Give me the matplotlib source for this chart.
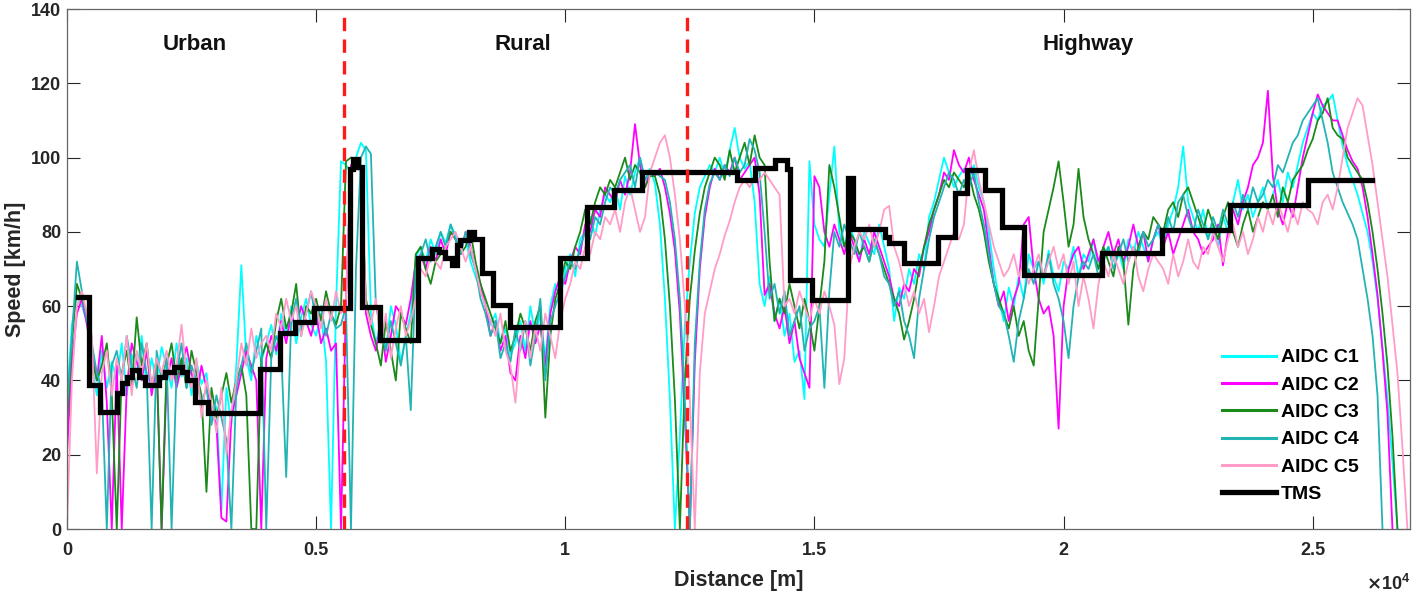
import numpy as np
import matplotlib
matplotlib.use('Agg')
from matplotlib import pyplot as plt

# speed samples every 100 m (km/h)
dist_step = 100

c1_speed = [35, 55, 63, 60, 56, 44, 36, 48, 38, 45,
            40, 50, 36, 47, 42, 52, 38, 46, 40, 49,
            44, 38, 50, 41, 46, 36, 45, 39, 42, 30,
            33, 5, 38, 28, 44, 71, 46, 40, 52, 45,
            50, 55, 47, 58, 52, 60, 50, 57, 62, 55,
            52, 58, 45, 0, 60, 99, 98, 96, 100, 104,
            102, 58, 50, 56, 48, 60, 55, 45, 52, 58,
            73, 76, 72, 78, 74, 80, 77, 82, 79, 76,
            78, 72, 68, 64, 60, 55, 58, 50, 54, 47,
            50, 56, 48, 60, 52, 58, 46, 60, 66, 62,
            70, 74, 68, 78, 80, 84, 79, 86, 90, 88,
            92, 86, 95, 90, 96, 100, 94, 97, 93, 82,
            62, 35, 0, 25, 55, 72, 85, 92, 95, 98,
            96, 100, 95, 102, 108, 100, 97, 99, 88, 66,
            60, 68, 56, 62, 52, 58, 45, 48, 35, 99,
            82, 78, 76, 90, 103, 80, 76, 82, 78, 72,
            80, 77, 74, 82, 76, 70, 56, 65, 62, 70,
            66, 74, 70, 84, 88, 94, 100, 96, 92, 95,
            97, 94, 98, 92, 88, 80, 70, 62, 56, 65,
            60, 68, 62, 74, 70, 72, 66, 75, 68, 64,
            72, 70, 76, 68, 74, 72, 78, 70, 74, 76,
            72, 75, 70, 78, 74, 80, 76, 72, 78, 80,
            76, 82, 86, 92, 103, 88, 84, 80, 86, 78,
            82, 76, 84, 80, 88, 94, 86, 90, 84, 88,
            92, 86, 90, 94, 88, 96, 92, 98, 104, 108,
            112, 110, 114, 115, 117, 110, 103, 98, 94, 90,
            85, 80, 72, 62, 49, 35, 18, 0]

c2_speed = [20, 45, 58, 62, 55, 48, 40, 52, 34, 0,
            44, 0, 38, 50, 45, 40, 48, 36, 44, 0,
            40, 46, 38, 44, 49, 42, 36, 44, 38, 32,
            28, 3, 2, 30, 36, 42, 48, 44, 40, 0,
            46, 52, 48, 56, 50, 58, 54, 60, 56, 52,
            58, 50, 54, 48, 50, 0, 62, 98, 99, 96,
            58, 52, 48, 56, 45, 52, 60, 58, 55, 62,
            72, 74, 70, 76, 72, 78, 74, 80, 78, 74,
            80, 76, 70, 66, 60, 52, 56, 48, 52, 42,
            40, 52, 46, 56, 50, 55, 44, 58, 64, 68,
            66, 72, 76, 74, 82, 80, 86, 84, 92, 90,
            88, 94, 90, 96, 109, 98, 92, 96, 95, 97,
            92, 85, 75, 58, 30, 0, 45, 70, 84, 92,
            97, 94, 98, 96, 100, 94, 96, 98, 100, 90,
            63, 66, 58, 54, 60, 50, 56, 46, 42, 38,
            95, 92, 80, 76, 82, 78, 74, 80, 76, 72,
            78, 74, 80, 76, 72, 68, 62, 60, 66, 64,
            70, 68, 76, 80, 86, 90, 96, 94, 102, 98,
            96, 100, 94, 90, 86, 76, 66, 60, 64, 56,
            62, 66, 82, 84, 70, 62, 58, 60, 52, 27,
            60, 70, 74, 76, 70, 74, 78, 72, 76, 80,
            74, 78, 72, 76, 82, 76, 80, 72, 78, 82,
            76, 80, 74, 78, 82, 86, 80, 78, 74, 76,
            78, 82, 71, 80, 86, 82, 88, 92, 98, 100,
            104, 118, 95, 86, 82, 88, 84, 92, 100, 106,
            112, 117, 114, 112, 110, 110, 106, 102, 99, 97,
            92, 84, 74, 63, 48, 31, 0]

c3_speed = [28, 50, 66, 62, 58, 46, 40, 44, 50, 36,
            0, 42, 48, 38, 57, 44, 50, 38, 46, 0,
            44, 50, 40, 46, 38, 48, 42, 36, 10, 38,
            30, 36, 42, 34, 40, 44, 36, 0, 0, 46,
            50, 46, 56, 62, 54, 58, 66, 52, 60, 58,
            62, 56, 64, 58, 55, 60, 99, 100, 98, 96,
            62, 55, 50, 44, 56, 48, 40, 58, 54, 50,
            74, 76, 70, 66, 72, 74, 76, 80, 78, 74,
            76, 80, 72, 66, 62, 58, 54, 50, 56, 48,
            52, 58, 54, 48, 56, 60, 30, 52, 62, 66,
            72, 70, 76, 80, 86, 82, 88, 92, 90, 94,
            92, 96, 100, 94, 98, 96, 92, 95, 95, 90,
            78, 60, 35, 0, 40, 62, 75, 85, 92, 96,
            100, 98, 94, 102, 96, 100, 104, 98, 106, 100,
            98, 72, 56, 62, 58, 66, 60, 54, 62, 56,
            48, 60, 72, 98, 92, 84, 76, 80, 78, 74,
            76, 72, 78, 74, 70, 66, 62, 58, 51, 56,
            62, 70, 76, 82, 86, 90, 94, 92, 96, 94,
            92, 96, 90, 86, 80, 72, 66, 62, 58, 54,
            60, 52, 56, 48, 44, 62, 80, 86, 92, 99,
            88, 76, 82, 97, 84, 78, 74, 70, 76, 72,
            68, 76, 72, 55, 70, 76, 80, 78, 84, 82,
            80, 86, 88, 84, 90, 92, 88, 84, 80, 86,
            82, 78, 84, 88, 80, 76, 82, 86, 80, 84,
            88, 86, 90, 84, 92, 88, 94, 96, 98, 102,
            105, 110, 112, 116, 108, 106, 105, 100, 98, 96,
            94, 88, 80, 70, 58, 44, 25, 0]

c4_speed = [32, 52, 72, 64, 56, 50, 42, 38, 0, 44,
            48, 40, 52, 44, 38, 50, 42, 0, 48, 40,
            46, 0, 42, 50, 38, 44, 40, 34, 38, 28,
            36, 30, 24, 0, 38, 44, 50, 42, 48, 54,
            0, 46, 52, 48, 14, 56, 62, 54, 58, 64,
            56, 60, 52, 58, 54, 55, 60, 0, 70, 100,
            103, 101, 60, 54, 48, 56, 50, 44, 52, 32,
            70, 74, 78, 72, 76, 80, 76, 82, 78, 74,
            80, 74, 70, 62, 58, 52, 56, 46, 50, 45,
            54, 48, 56, 44, 52, 62, 40, 56, 60, 64,
            68, 72, 70, 76, 80, 78, 84, 82, 88, 92,
            90, 94, 96, 98, 92, 100, 94, 96, 96, 95,
            94, 88, 78, 62, 35, 0, 50, 72, 86, 93,
            96, 94, 98, 95, 100, 96, 98, 105, 102, 96,
            80, 62, 66, 58, 64, 52, 56, 60, 48, 54,
            56, 60, 38, 64, 80, 76, 82, 78, 74, 80,
            76, 72, 78, 74, 68, 66, 60, 64, 56, 52,
            46, 62, 70, 78, 84, 88, 92, 96, 94, 90,
            94, 92, 96, 88, 82, 74, 66, 60, 58, 52,
            45, 56, 62, 70, 66, 72, 68, 74, 66, 62,
            56, 46, 60, 68, 72, 70, 74, 68, 72, 76,
            70, 74, 78, 72, 76, 74, 80, 76, 78, 82,
            78, 84, 80, 88, 90, 84, 80, 86, 82, 78,
            84, 80, 86, 82, 88, 84, 90, 86, 92, 88,
            90, 94, 92, 98, 96, 100, 104, 106, 110, 112,
            114, 116, 110, 104, 96, 92, 88, 85, 82, 78,
            70, 62, 52, 36, 0]

c5_speed = [0, 40, 60, 64, 58, 52, 15, 42, 48, 36,
            46, 40, 52, 36, 48, 42, 50, 38, 46, 42,
            48, 40, 44, 55, 42, 38, 46, 30, 40, 34,
            26, 38, 20, 32, 40, 50, 44, 54, 46, 50,
            52, 48, 58, 54, 62, 56, 60, 52, 58, 64,
            60, 54, 62, 56, 64, 58, 62, 97, 99, 96,
            60, 55, 62, 50, 58, 46, 54, 60, 52, 56,
            62, 70, 68, 74, 72, 70, 76, 78, 80, 76,
            72, 76, 70, 64, 60, 56, 52, 58, 48, 44,
            34, 50, 56, 46, 54, 48, 58, 52, 46, 56,
            62, 66, 72, 70, 76, 74, 80, 78, 84, 82,
            86, 80, 88, 92, 86, 80, 84, 96, 100, 104,
            106, 100, 90, 78, 60, 35, 0, 42, 58, 64,
            70, 74, 79, 83, 88, 92, 94, 92, 95, 94,
            96, 94, 92, 90, 60, 62, 58, 64, 60, 56,
            62, 58, 64, 60, 55, 39, 46, 70, 76, 80,
            78, 82, 76, 80, 86, 87, 76, 72, 66, 60,
            64, 58, 62, 53, 60, 68, 72, 76, 80, 78,
            82, 96, 102, 94, 88, 82, 76, 72, 68, 70,
            74, 68, 72, 66, 70, 74, 68, 72, 76, 70,
            74, 66, 72, 60, 68, 62, 54, 66, 72, 68,
            74, 70, 66, 72, 76, 68, 64, 70, 74, 72,
            70, 66, 74, 68, 72, 78, 72, 70, 76, 74,
            80, 76, 72, 78, 82, 76, 80, 74, 78, 84,
            80, 86, 82, 88, 84, 80, 86, 82, 88, 86,
            85, 82, 88, 90, 86, 92, 100, 108, 112, 116,
            114, 106, 98, 88, 78, 68, 55, 42, 22, 0]

# TMS target speed: step starts (m) and level (km/h)
tms_dist = [220, 435, 670, 1000, 1100, 1200, 1300, 1440, 1570, 1840,
            1970, 2140, 2310, 2410, 2575, 2840, 3880, 4280, 4580, 4950,
            5680, 5750, 5840, 5920, 6290, 7055, 7320, 7460, 7590, 7720,
            7825, 7890, 8060, 8160, 8330, 8560, 8900, 9900, 10430, 10970,
            11540, 13440, 13810, 14210, 14450, 14510, 14950, 15680, 15780, 16420,
            16490, 16790, 17490, 17820, 18060, 18430, 18760, 19200, 20770, 21970,
            23340, 24910, 26180]
tms_speed = [62.5, 38.8, 31.6, 36.5, 39.2, 41, 42.8, 41, 38.8, 41,
             42.3, 43.7, 42.3, 40.1, 34.3, 31.2, 43.2, 52.8, 55.8, 59.4,
             97, 99.5, 97.5, 59.9, 50.9, 72.9, 75.5, 74.6, 72.9, 71.1,
             76.4, 77.8, 80, 78.2, 68.8, 60.3, 54.5, 72.9, 86.6, 91.4,
             96.2, 94, 97.1, 99.4, 97, 67, 61.6, 94.4, 80.9, 78.7,
             76.9, 71.5, 78.7, 90.4, 96.6, 91.3, 81.4, 68.4, 74.2, 80.5,
             87.2, 94.1, 94.1]

zone_bounds = [5570, 12450]
zone_names = ['Urban', 'Rural', 'Highway']
zone_label_x = [2570, 9150, 20490]

series_names = ['AIDC C1', 'AIDC C2', 'AIDC C3', 'AIDC C4', 'AIDC C5']
series_colors = ['#00ffff', '#ff00ff', '#1a8a1a', '#22b4b4', '#ff9cc8']

plt.rcParams['font.family'] = ['Liberation Sans', 'DejaVu Sans']
plt.rcParams['font.weight'] = 'bold'

fig = plt.figure(figsize=(14.15, 5.94), dpi=100)
ax = fig.add_axes([0.0473, 0.1094, 0.9491, 0.8754])

all_speeds = [c1_speed, c2_speed, c3_speed, c4_speed, c5_speed]
for spd, name, col in zip(all_speeds, series_names, series_colors):
    d = np.arange(len(spd)) * dist_step
    ax.plot(d, spd, color=col, lw=1.3, label=name)

ax.step(tms_dist, tms_speed, where='post', color='black', lw=3.8,
        label='TMS', solid_joinstyle='miter')

for xb in zone_bounds:
    ax.axvline(xb, color='#ff1a1a', lw=2.4, ls=(0, (4, 2.5)), zorder=5)

for name, xl in zip(zone_names, zone_label_x):
    ax.text(xl, 130.5, name, ha='center', va='center', fontsize=16,
            fontweight='bold', color='#111111')

ax.set_xlim(0, 26950)
ax.set_ylim(0, 140)
ax.set_xticks([0, 5000, 10000, 15000, 20000, 25000])
ax.set_xticklabels(['0', '0.5', '1', '1.5', '2', '2.5'])
ax.set_yticks(np.arange(0, 141, 20))
ax.tick_params(direction='in', length=9.5, width=0.8, top=True, right=True,
               labelsize=13, colors='#262626')
ax.tick_params(axis='y', pad=4)
ax.tick_params(axis='x', pad=9)
for sp in ax.spines.values():
    sp.set_color('#666666')
    sp.set_linewidth(0.9)

ax.set_xlabel('Distance [m]', fontsize=15.5, fontweight='bold', color='#262626',
              labelpad=8)
ax.set_ylabel('Speed [km/h]', fontsize=15.5, fontweight='bold', color='#262626',
              labelpad=4)
ax.text(1.0, -0.105, r'$\times\mathregular{10^4}$', transform=ax.transAxes,
        ha='right', va='center', fontsize=13, color='#262626')

leg = ax.legend(loc='lower right', bbox_to_anchor=(0.962, 0.05), frameon=False,
                fontsize=14, handlelength=2.8, borderpad=0, borderaxespad=0,
                labelspacing=0.5, handletextpad=0.25)
for line in leg.get_lines()[:5]:
    line.set_linewidth(2.2)
for txt in leg.get_texts():
    txt.set_fontweight('bold')

fig.savefig('out.png', dpi=100)
